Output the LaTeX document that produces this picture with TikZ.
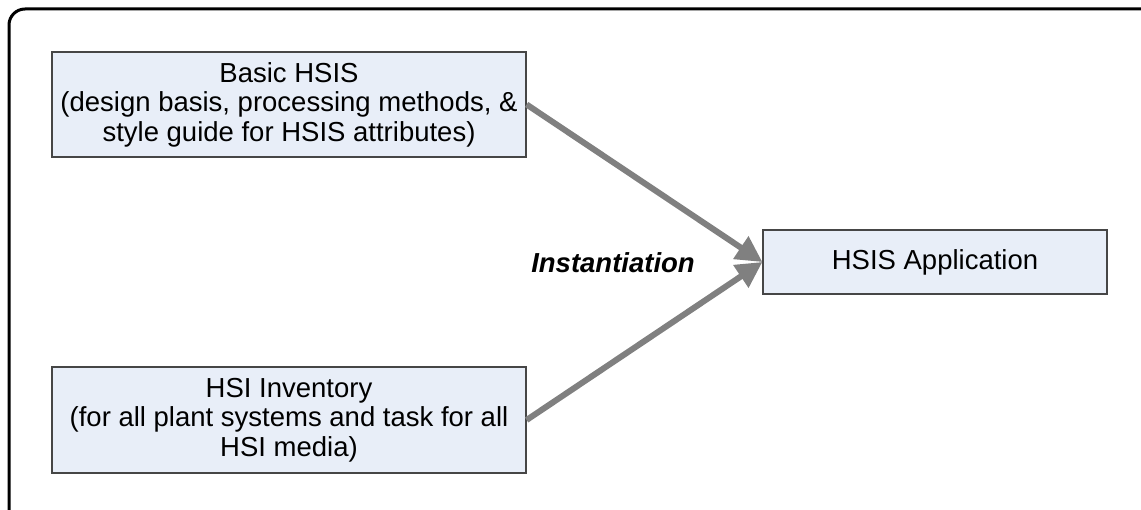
\documentclass[tikz,border=0pt]{standalone}
\usepackage{fontspec}
\setmainfont{Liberation Sans}
\usetikzlibrary{arrows.meta}
\definecolor{boxfill}{RGB}{232,238,248}
\definecolor{boxline}{RGB}{70,70,70}
\definecolor{flowgrey}{RGB}{128,128,128}
\newcommand{\boxsize}{\fontsize{27.5}{29.5}\selectfont}
\tikzset{
  infobox/.style={draw=boxline, line width=1.2pt, fill=boxfill, align=center,
    inner sep=0pt, font=\boxsize},
  labeltext/.style={font=\boxsize\bfseries\itshape},
  flow/.style={draw=flowgrey, line width=6pt,
    -{Triangle[length=26pt,width=26pt]}},
}
\begin{document}
\begin{tikzpicture}[x=1pt, y=-1pt]
  \useasboundingbox (0,0) rectangle (1141,510);
  % outer frame, running past the page on the right and at the bottom
  \begin{scope}
    \clip (0,0) rectangle (1141,510);
    \draw[line width=3pt, rounded corners=16pt] (9,9) rectangle (1160,540);
  \end{scope}

  \node[infobox, minimum width=474pt, minimum height=105pt] (basic) at (289,104.5)
    {Basic HSIS\\(design basis, processing methods, \&\\style guide for HSIS attributes)};
  \node[infobox, minimum width=474pt, minimum height=106pt] (inv) at (289,420)
    {HSI Inventory\\(for all plant systems and task for all\\HSI media)};
  \node[infobox, minimum width=344pt, minimum height=64pt] (app) at (935,262)
    {HSIS Application};
  \node[labeltext] (inst) at (613,263) {Instantiation};

  \draw[flow] (basic.east) -- (app.west);
  \draw[flow] (inv.east) -- (app.west);
\end{tikzpicture}
\end{document}
